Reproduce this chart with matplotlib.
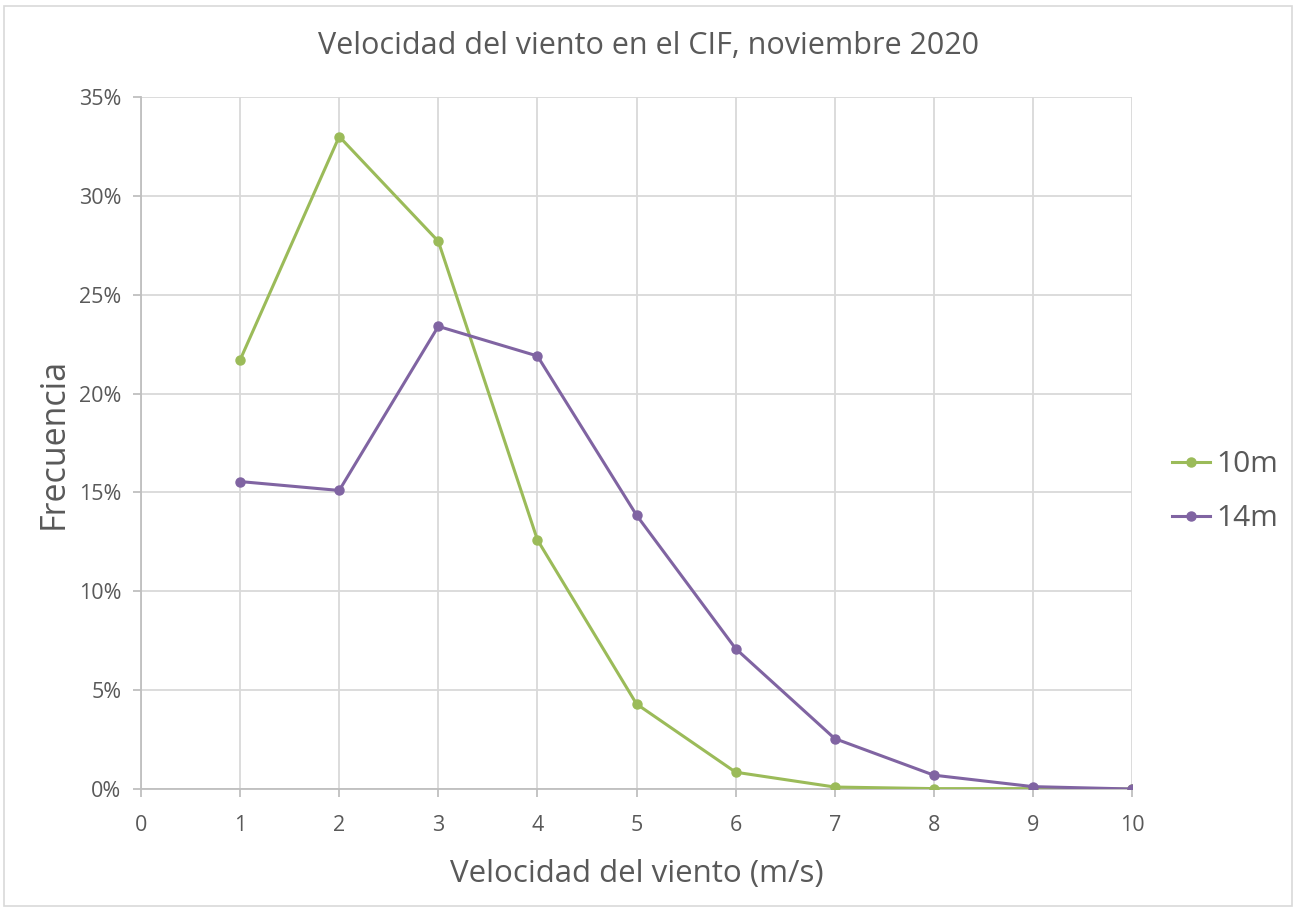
import matplotlib
matplotlib.use("Agg")
import matplotlib.pyplot as plt
from matplotlib.ticker import FuncFormatter, MultipleLocator
from matplotlib.patches import Rectangle

speeds = [1, 2, 3, 4, 5, 6, 7, 8, 9, 10]
freq_10m = [21.7, 33.0, 27.7, 12.6, 4.3, 0.85, 0.1, 0.02, 0.02, 0.0]
freq_14m = [15.55, 15.1, 23.4, 21.9, 13.85, 7.1, 2.55, 0.7, 0.12, 0.0]
series_names = ["10m", "14m"]
title = "Velocidad del viento en el CIF, noviembre 2020"
xlabel = "Velocidad del viento (m/s)"
ylabel = "Frecuencia"

plt.rcParams['font.family'] = ['Open Sans', 'DejaVu Sans']
txt = '#595959'
grid = '#d9d9d9'

fig = plt.figure(figsize=(12.96, 9.09), dpi=100)
fig.patches.append(Rectangle((0.003, 0.003), 0.994, 0.99, transform=fig.transFigure,
                             fill=False, edgecolor='#d9d9d9', linewidth=1.2))
ax = fig.add_axes([0.1088, 0.132, 0.7647, 0.7613])

ax.plot(speeds, freq_10m, color='#9BBB59', marker='o', markersize=6.5, linewidth=2.2, label=series_names[0], zorder=3)
ax.plot(speeds, freq_14m, color='#8064A2', marker='o', markersize=6.5, linewidth=2.2, label=series_names[1], zorder=3)

ax.set_xlim(0, 10)
ax.set_ylim(0, 35)
ax.xaxis.set_major_locator(MultipleLocator(1))
ax.yaxis.set_major_locator(MultipleLocator(5))
ax.yaxis.set_major_formatter(FuncFormatter(lambda v, p: f"{int(round(v))}%"))
ax.grid(True, color=grid, linewidth=1.3)
ax.set_axisbelow(True)
for s in ['top', 'right']:
    ax.spines[s].set_visible(False)
for s in ['left', 'bottom']:
    ax.spines[s].set_color('#bfbfbf')
    ax.spines[s].set_linewidth(1.3)
ax.tick_params(axis='both', colors='#bfbfbf', labelcolor=txt, labelsize=15.5, length=6, width=1.3)
ax.tick_params(axis='y', pad=8)
ax.tick_params(axis='x', pad=13)

ax.set_xlabel(xlabel, fontsize=22.5, color=txt, labelpad=16)
ax.set_ylabel(ylabel, fontsize=24.5, color=txt, labelpad=6)
fig.text(0.5, 0.949, title, ha='center', va='center', fontsize=22, color=txt)

leg = fig.legend(handles=ax.get_lines(), labels=series_names, loc='center left',
                 bbox_to_anchor=(0.904, 0.459), frameon=False,
                 fontsize=21.5, handlelength=1.3, handletextpad=0.2, labelspacing=0.85,
                 labelcolor=txt, borderaxespad=0, borderpad=0)

fig.savefig("out.png", dpi=100)
